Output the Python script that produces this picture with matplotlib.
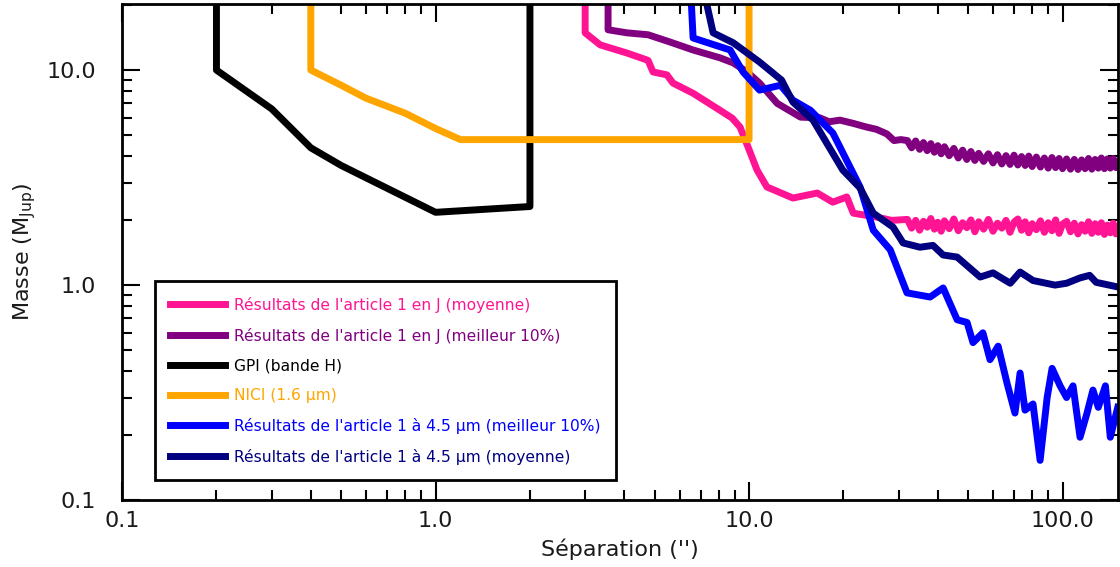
import numpy as np
import matplotlib
matplotlib.use('Agg')
from matplotlib import pyplot as plt
from matplotlib.ticker import FixedLocator, FixedFormatter, LogLocator, NullFormatter

# common separations for the noisy far-out part of the J band curves
sep_far = [32, 33, 34, 35, 36, 37, 38, 39, 40, 41,
           42, 43.5, 45, 46.5, 48, 49.5, 51, 52.5, 54, 56,
           58, 60, 62, 64, 66, 68, 70, 72, 74, 76,
           78, 80, 82.5, 85, 87.5, 90, 92.5, 95, 97.5, 100,
           103, 106, 109, 112, 115, 118, 121, 124, 127, 130,
           133, 136, 139, 142, 145, 148, 150]

# J band, mean contrast
sep_j_mean = [3.0, 3.0, 3.35, 4.08, 4.76, 4.94, 5.47, 5.72, 6.63, 8.08, 8.83, 9.36, 9.93,
              10.6, 11.4, 13.8, 16.5, 18.5, 20.5, 21.5, 25.6, 28.5] + sep_far
mass_j_mean = [25.0, 14.9, 13.1, 12.0, 11.1, 9.8, 9.5, 8.7, 7.8, 6.5, 5.98, 5.43, 4.38,
               3.43, 2.86, 2.54, 2.68, 2.43, 2.57, 2.16, 2.07, 2.0,
               2.02, 1.84, 2.00, 1.80, 1.98, 1.86, 2.04, 1.82, 1.96, 1.78,
               1.99, 1.83, 2.03, 1.79, 1.95, 1.85, 2.01, 1.77, 1.97, 1.82,
               2.02, 1.78, 1.94, 1.84, 2.00, 1.76, 1.96, 2.03, 1.80, 1.97,
               1.75, 1.93, 1.81, 1.99, 1.76, 1.95, 1.79, 2.01, 1.74, 1.92,
               1.98, 1.77, 1.94, 1.73, 1.91, 1.78, 1.97, 1.74, 1.93, 1.76,
               1.95, 1.72, 1.90, 1.75, 1.94, 1.73, 1.86]

# J band, best 10%
sep_j_best = [3.55, 3.55, 4.08, 4.76, 5.6, 6.63, 8.08, 8.9, 9.86, 10.8, 12.3, 14.6,
              16.8, 18.0, 19.5, 21.5, 23.5, 25.5, 27.5, 29.0, 30.5] + sep_far
mass_j_best = [25.0, 15.4, 14.9, 14.6, 13.5, 12.4, 11.4, 10.8, 9.8, 8.7, 7.0, 6.04,
               6.0, 5.75, 5.85, 5.65, 5.45, 5.3, 5.05, 4.7, 4.75,
               4.70, 4.35, 4.68, 4.28, 4.60, 4.22, 4.55, 4.15, 4.45, 4.08,
               4.40, 4.00, 4.32, 3.90, 4.24, 3.84, 4.18, 3.80, 4.10, 3.76,
               4.08, 3.70, 4.04, 3.66, 4.00, 3.64, 4.02, 3.62, 3.96, 3.60,
               3.98, 3.56, 3.94, 3.54, 3.90, 3.50, 3.92, 3.52, 3.88, 3.48,
               3.86, 3.46, 3.84, 3.45, 3.82, 3.48, 3.88, 3.46, 3.84, 3.50,
               3.90, 3.48, 3.86, 3.50, 3.88, 3.52, 3.70]

# GPI, H band
sep_gpi = [0.2, 0.2, 0.3, 0.4, 0.5, 1.0, 2.0, 2.0]
mass_gpi = [25.0, 10.0, 6.6, 4.35, 3.6, 2.18, 2.32, 25.0]

# NICI, 1.6 micron
sep_nici = [0.4, 0.4, 0.5, 0.6, 0.8, 1.0, 1.2, 10.0, 10.0]
mass_nici = [25.0, 10.0, 8.5, 7.4, 6.3, 5.35, 4.75, 4.75, 25.0]

# 4.5 micron, best 10%
sep_l_best = [6.5, 6.63, 8.7, 9.57, 10.8, 12.6, 13.8, 15.7, 18.5, 22.6, 24.9, 28.2,
              31.9, 37.8, 41.6, 46.1, 49.6, 51.8, 55.7, 58.7, 62.3, 66.5, 70.5, 73.2,
              75.9, 80.5, 84.8, 89.3, 92.6, 98.2, 103, 108, 113.7, 119.7, 125, 130,
              137, 142, 150]
mass_l_best = [25.0, 14.1, 12.4, 9.8, 8.07, 8.5, 7.25, 6.5, 5.1, 2.86, 1.80, 1.46,
               0.92, 0.88, 0.97, 0.69, 0.67, 0.54, 0.60, 0.45, 0.52, 0.35, 0.254, 0.39,
               0.262, 0.28, 0.153, 0.30, 0.41, 0.34, 0.30, 0.34, 0.196, 0.254, 0.325,
               0.27, 0.34, 0.196, 0.27]

# 4.5 micron, mean
sep_l_mean = [7.1, 7.68, 8.9, 10.8, 12.7, 13.8, 16.0, 19.9, 22.6, 24.9, 28.8, 31.0,
              35.1, 38.6, 41.6, 46.1, 54.6, 60.0, 68.1, 73.2, 80.5, 94.6, 103, 113.7,
              122, 128, 150]
mass_l_mean = [25.0, 14.9, 13.4, 10.9, 8.98, 7.1, 5.85, 3.43, 2.83, 2.16, 1.86, 1.57,
               1.50, 1.53, 1.38, 1.35, 1.09, 1.14, 1.02, 1.15, 1.05, 1.0, 1.02, 1.08,
               1.11, 1.03, 0.98]

curves = [
    (sep_j_mean, mass_j_mean, '#FF1493', "Résultats de l'article 1 en J (moyenne)"),
    (sep_j_best, mass_j_best, '#800080', "Résultats de l'article 1 en J (meilleur 10%)"),
    (sep_gpi, mass_gpi, '#000000', "GPI (bande H)"),
    (sep_nici, mass_nici, '#FFA500', "NICI (1.6 µm)"),
    (sep_l_best, mass_l_best, '#0000FF', "Résultats de l'article 1 à 4.5 µm (meilleur 10%)"),
    (sep_l_mean, mass_l_mean, '#000080', "Résultats de l'article 1 à 4.5 µm (moyenne)"),
]

fig = plt.figure(figsize=(11.2, 5.67), dpi=100, facecolor='w')
ax = fig.add_axes([0.109, 0.118, 0.889, 0.875])

for x, y, c, lab in curves:
    ax.plot(x, y, color=c, lw=5, label=lab)

ax.set_xscale('log')
ax.set_yscale('log')
ax.set_xlim(0.1, 150)
ax.set_ylim(0.1, 20.3)

ax.xaxis.set_major_locator(FixedLocator([0.1, 1, 10, 100]))
ax.xaxis.set_major_formatter(FixedFormatter(['0.1', '1.0', '10.0', '100.0']))
ax.yaxis.set_major_locator(FixedLocator([0.1, 1, 10]))
ax.yaxis.set_major_formatter(FixedFormatter(['0.1', '1.0', '10.0']))
for axis in (ax.xaxis, ax.yaxis):
    axis.set_minor_locator(LogLocator(base=10, subs=np.arange(2, 10), numticks=20))
    axis.set_minor_formatter(NullFormatter())

ax.tick_params(which='both', direction='in', top=True, right=True, labelsize=16,
               color='k', labelcolor='#1a1a1a')
ax.tick_params(which='major', length=13, width=1.5)
ax.tick_params(which='minor', length=7, width=1.5)
ax.tick_params(axis='x', which='major', pad=8)
ax.tick_params(axis='y', which='major', pad=19)
for s in ax.spines.values():
    s.set_linewidth(2)

ax.set_xlabel("Séparation ('')", fontsize=16, color='#1a1a1a', labelpad=5)
ax.set_ylabel(r"Masse (M$_{\mathrm{Jup}}$)", fontsize=16, color='#1a1a1a', labelpad=6)

leg = ax.legend(loc='lower left', bbox_to_anchor=(0.033, 0.04), borderaxespad=0,
                fontsize=11.2, handlelength=3.5, handletextpad=0.6, labelspacing=0.95,
                fancybox=False, framealpha=1, borderpad=1.0)
leg.get_frame().set_edgecolor('k')
leg.get_frame().set_linewidth(2)
for txt, (_, _, c, _) in zip(leg.get_texts(), curves):
    txt.set_color(c)

fig.savefig('out.png', dpi=100, facecolor='w')
